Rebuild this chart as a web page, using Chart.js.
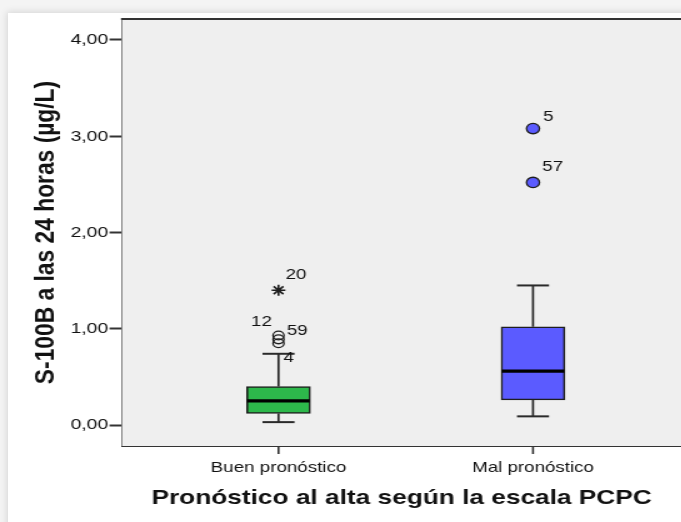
<!DOCTYPE html>
<html>
<head>
<meta charset="utf-8">
<script src="https://cdn.jsdelivr.net/npm/chart.js@4.4.1/dist/chart.umd.min.js"></script>
<style>
  html, body { margin: 0; padding: 0; width: 681px; height: 522px; overflow: hidden; background: #f4f4f4; }
  #card { position: absolute; left: 8px; top: 13px; width: 720px; height: 560px; background: #ffffff;
          box-shadow: 0 0 7px 1px rgba(0,0,0,0.13); }
  #wrap { position: absolute; left: 0; top: 0; width: 545px; height: 522px;
          transform: scaleX(1.25); transform-origin: 0 0; }
</style>
</head>
<body>
<div id="card"></div>
<div id="wrap"><canvas id="c" width="545" height="522"></canvas></div>
<script>
// Groups and five-number summaries of S-100B at 24 h (µg/L)
const categories = ['Buen pronóstico', 'Mal pronóstico'];
const lowerWhisker = [0.03, 0.09];
const q1 = [0.12, 0.26];
const medians = [0.25, 0.56];
const q3 = [0.40, 1.02];
const upperWhisker = [0.74, 1.45];

// Outliers (circles) and extreme values (stars) with their case numbers
const outlierValues = [[0.93, 0.89, 0.85], [3.08, 2.52]];
const outlierCases = [['12', '59', '4'], ['5', '57']];
const extremeValues = [[1.40], []];
const extremeCases = [['20'], []];

const yTickValues = [0, 1, 2, 3, 4];
const yTickLabels = ['0,00', '1,00', '2,00', '3,00', '4,00'];

const boxFill = ['#2db84b', '#5b5bff'];
const ink = '#1e1e1e';

// Build the datasets from the arrays above
const stems = [];
categories.forEach((_, i) => {
  stems.push({ x: i, y: lowerWhisker[i] }, { x: i, y: q1[i] }, { x: i, y: null });
  stems.push({ x: i, y: q3[i] }, { x: i, y: upperWhisker[i] }, { x: i, y: null });
});
const caps = [];
categories.forEach((_, i) => {
  caps.push({ x: i, y: lowerWhisker[i] }, { x: i, y: upperWhisker[i] });
});
const outlierPoints = [];
const outlierFill = [];
const outlierLabels = [];
outlierValues.forEach((vals, i) => vals.forEach((v, j) => {
  outlierPoints.push({ x: i, y: v });
  outlierFill.push(i === 0 ? 'rgba(0,0,0,0)' : boxFill[1]);
  outlierLabels.push(outlierCases[i][j]);
}));
const extremePoints = [];
const extremeLabels = [];
extremeValues.forEach((vals, i) => vals.forEach((v, j) => {
  extremePoints.push({ x: i, y: v });
  extremeLabels.push(extremeCases[i][j]);
}));

// Where each case number sits relative to its marker
const casePlacement = {
  '20': { dx: 5.6, dy: -15.7, align: 'left' },
  '12': { dx: -5.3, dy: -13.3, align: 'right' },
  '59': { dx: 6.6, dy: -8.3, align: 'left' },
  '4':  { dx: 4.0, dy: 14.4, align: 'left' },
  '5':  { dx: 8.2, dy: -11.8, align: 'left' },
  '57': { dx: 7.4, dy: -15.6, align: 'left' }
};

// Grey plot panel, its top edge and the category tick marks under the x axis
const plotFrame = {
  id: 'plotFrame',
  beforeDatasetsDraw(chart) {
    const { ctx, chartArea: a } = chart;
    ctx.save();
    ctx.fillStyle = '#efefef';
    ctx.fillRect(a.left, a.top, a.right - a.left, a.bottom - a.top);
    ctx.restore();
  },
  afterDraw(chart) {
    const { ctx, chartArea: a } = chart;
    const xs = chart.scales.x;
    ctx.save();
    ctx.strokeStyle = '#333';
    ctx.lineWidth = 2;
    ctx.beginPath();
    ctx.moveTo(a.left - 0.8, a.top);
    ctx.lineTo(a.right + 2, a.top);
    ctx.stroke();
    ctx.lineWidth = 1.6;
    ctx.beginPath();
    categories.forEach((_, i) => {
      const px = xs.getPixelForValue(i);
      ctx.moveTo(px, a.bottom);
      ctx.lineTo(px, a.bottom + 8);
    });
    ctx.stroke();
    ctx.restore();
  }
};

const caseLabels = {
  id: 'caseLabels',
  afterDatasetsDraw(chart) {
    const { ctx } = chart;
    ctx.save();
    ctx.font = '15px "Liberation Sans", Arial, sans-serif';
    ctx.fillStyle = '#111';
    ctx.textBaseline = 'middle';
    chart.data.datasets.forEach((ds, di) => {
      if (!ds.caseNumbers) return;
      const meta = chart.getDatasetMeta(di);
      meta.data.forEach((pt, k) => {
        const lab = ds.caseNumbers[k];
        const p = casePlacement[lab] || { dx: 7, dy: -12, align: 'left' };
        ctx.textAlign = p.align;
        ctx.fillText(lab, pt.x + p.dx, pt.y + p.dy);
      });
    });
    ctx.restore();
  }
};

Chart.defaults.font.family = '"Liberation Sans", Arial, sans-serif';
Chart.defaults.color = '#111';

new Chart(document.getElementById('c'), {
  data: {
    datasets: [
      { type: 'line', data: stems, borderColor: '#2a2a2a', borderWidth: 1.7, pointRadius: 0,
        spanGaps: false, order: 5, clip: false },
      { type: 'bar', data: categories.map((_, i) => ({ x: i, y: [q1[i], q3[i]] })),
        backgroundColor: boxFill, borderColor: ink, borderWidth: 1.6, borderSkipped: false,
        barThickness: 51, order: 4 },
      { type: 'scatter', data: caps, pointStyle: 'line', pointRadius: 12.8, borderColor: '#2a2a2a',
        pointBorderWidth: 2, order: 3, clip: false },
      { type: 'scatter', data: categories.map((_, i) => ({ x: i, y: medians[i] })), pointStyle: 'line',
        pointRadius: 25, borderColor: '#000', pointBorderWidth: 3.2, order: 2 },
      { type: 'scatter', data: outlierPoints, caseNumbers: outlierLabels, pointStyle: 'circle',
        pointRadius: outlierPoints.map(p => p.x === 0 ? 4.4 : 5.2), pointBackgroundColor: outlierFill,
        pointBorderColor: ink, pointBorderWidth: 1.3, order: 1, clip: false },
      { type: 'scatter', data: extremePoints, caseNumbers: extremeLabels, pointStyle: 'star',
        pointRadius: 5.5, pointBorderColor: ink, pointBorderWidth: 1.6, order: 0, clip: false }
    ]
  },
  options: {
    responsive: false,
    animation: false,
    events: [],
    layout: { autoPadding: false, padding: { top: 19, left: 0, right: 0, bottom: 0 } },
    plugins: { legend: { display: false }, tooltip: { enabled: false } },
    scales: {
      x: {
        type: 'linear', min: -0.615, max: 1.5825, offset: false,
        afterBuildTicks: s => { s.ticks = categories.map((_, i) => ({ value: i })); },
        afterFit: s => { s.height = 76; s.paddingLeft = 0; s.paddingRight = 0; },
        ticks: { callback: v => categories[v], font: { size: 15 }, color: '#111', padding: 13, maxRotation: 0, autoSkip: false },
        grid: { display: false, drawTicks: false },
        border: { display: true, color: '#333', width: 2 },
        title: { display: true, text: 'Pronóstico al alta según la escala PCPC',
                 font: { size: 21, weight: 'bold' }, color: '#111', padding: { top: 0, bottom: 11.6 } }
      },
      y: {
        type: 'linear', min: -0.218, max: 4.218,
        afterBuildTicks: s => { s.ticks = yTickValues.map(v => ({ value: v })); },
        afterFit: s => { s.width = 97.6; s.paddingTop = 0; s.paddingBottom = 0; },
        ticks: { callback: (v) => yTickLabels[yTickValues.indexOf(v)], font: { size: 15.5 }, color: '#111', padding: 1 },
        grid: { display: true, drawOnChartArea: false, drawTicks: true, tickLength: 10,
                tickColor: '#333', tickWidth: 2 },
        border: { display: true, color: '#333', width: 1.7 },
        title: { display: true, text: 'S-100B a las 24 horas (µg/L)',
                 font: { size: 22.8, weight: 'bold' }, color: '#111', padding: { top: 22.8, bottom: 0 } }
      }
    }
  },
  plugins: [plotFrame, caseLabels]
});
</script>
</body>
</html>
